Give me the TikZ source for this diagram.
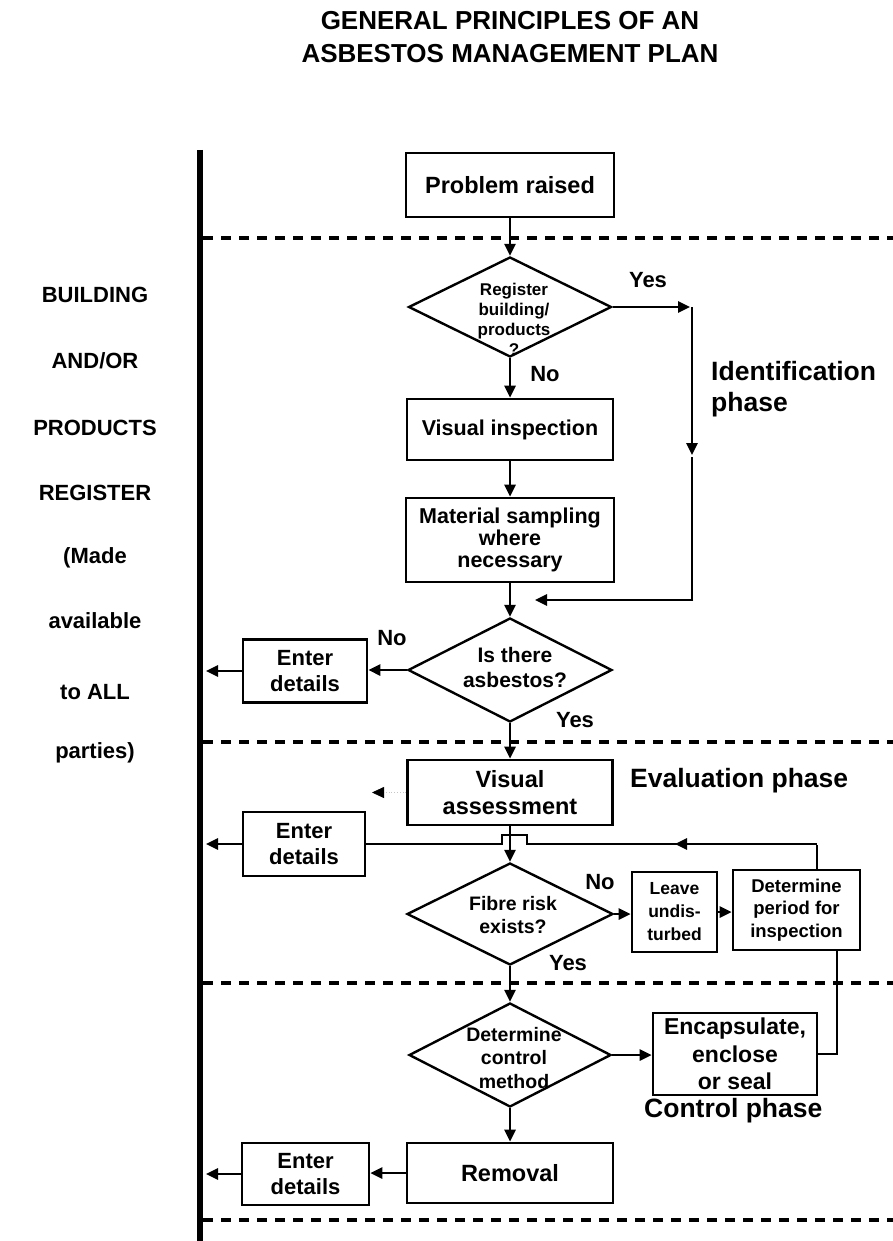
\documentclass[tikz,border=0pt]{standalone}
\usepackage{fontspec}
\setmainfont{Liberation Sans}
\usetikzlibrary{shapes.geometric,arrows.meta}
\newcommand{\myfs}[2]{\fontsize{#1}{#2}\selectfont}
\begin{document}
\begin{tikzpicture}[x=1pt,y=-1pt,
  lw/.style={line width=2.6pt},
  conn/.style={line width=2.6pt,-{Triangle[length=12pt,width=11pt]}},
  box/.style={draw,line width=2.6pt,inner sep=0pt,align=center,font=\bfseries\myfs{22}{26}},
  dia/.style={draw,diamond,line width=2.4pt,inner sep=0pt},
  dtext/.style={align=center,inner sep=0pt,font=\bfseries\myfs{19.5}{23.5}},
  yn/.style={inner sep=0pt,font=\bfseries\myfs{22}{26}},
  phaseline/.style={line width=4.5pt,dash pattern=on 10pt off 8pt},
  reglab/.style={anchor=base,inner sep=0pt,font=\bfseries\myfs{22}{26}},
  phaselab/.style={anchor=base west,inner sep=0pt,font=\bfseries\myfs{26.5}{31}},
  titlelab/.style={anchor=base,inner sep=0pt,font=\bfseries\myfs{26}{33}},
]
\useasboundingbox (0,0) rectangle (893,1241);

% title
\node[titlelab] (t1) at (510,30) {GENERAL PRINCIPLES OF AN};
\node[titlelab] (t2) at (510,63) {ASBESTOS MANAGEMENT PLAN};

% register line and phase separators
\coordinate (regtop) at (200,150);
\coordinate (regbot) at (200,1241);
\coordinate (regx) at (206,0);
\draw[line width=6pt] (regtop) -- (regbot);
\draw[phaseline] (203,238) -- (893,238);
\draw[phaseline] (203,742) -- (893,742);
\draw[phaseline] (203,983) -- (893,983);
\draw[phaseline] (203,1220) -- (893,1220);

% left labels
\node[reglab] (r1) at (95,302) {BUILDING};
\node[reglab] (r2) at (95,368) {AND/OR};
\node[reglab] (r3) at (95,435) {PRODUCTS};
\node[reglab] (r4) at (95,500) {REGISTER};
\node[reglab] (r5) at (95,563) {(Made};
\node[reglab] (r6) at (95,628) {available};
\node[reglab] (r7) at (95,699) {to ALL};
\node[reglab] (r8) at (95,758) {parties)};

% phase labels
\node[phaselab] (ph1) at (711,380) {Identification};
\node[phaselab] (ph2) at (711,411) {phase};
\node[phaselab] (ph3) at (630,787) {Evaluation phase};
\node[phaselab] (ph4) at (644,1117) {Control phase};

% boxes
\node[box,minimum width=208pt,minimum height=64pt,font=\bfseries\myfs{23.5}{27}] (P) at (510,185) {Problem raised};
\node[box,minimum width=206pt,minimum height=61pt,font=\bfseries\myfs{21.5}{25}] (VI) at (510,429.5) {Visual inspection};
\node[box,minimum width=208pt,minimum height=84pt,font=\bfseries\myfs{21.5}{22}] (MS) at (510,540) {Material sampling\\where\\necessary};
\node[box,minimum width=124pt,minimum height=63pt] (E1) at (305,671) {Enter\\details};
\node[box,minimum width=205pt,minimum height=65pt,font=\bfseries\myfs{23.5}{27}] (VA) at (510,792.5) {Visual\\assessment};
\node[box,minimum width=122pt,minimum height=64pt] (E2) at (304,844) {Enter\\details};
\node[box,minimum width=85pt,minimum height=80pt,font=\bfseries\myfs{17.5}{23}] (L) at (674.5,912) {Leave\\undis-\\turbed};
\node[box,minimum width=127pt,minimum height=80pt,font=\bfseries\myfs{18.5}{22.5}] (DP) at (796.5,910) {Determine\\period for\\inspection};
\node[box,minimum width=164pt,minimum height=82pt,font=\bfseries\myfs{23}{27.5}] (Enc) at (735,1054) {Encapsulate,\\enclose\\or seal};
\node[box,minimum width=206pt,minimum height=60pt,font=\bfseries\myfs{23.5}{27}] (R) at (510,1173) {Removal};
\node[box,minimum width=127pt,minimum height=62pt] (E3) at (305.5,1174) {Enter\\details};

% diamonds
\node[dia,minimum width=203pt,minimum height=100pt] (d1) at (510,307) {};
\node[dtext,font=\bfseries\myfs{17}{20}] (d1t) at (514,319) {Register\\building/\\products\\?};
\node[dia,minimum width=204pt,minimum height=104pt] (d2) at (510,670) {};
\node[dtext,font=\bfseries\myfs{21}{25}] (d2t) at (515,667) {Is there\\asbestos?};
\node[dia,minimum width=206pt,minimum height=102pt] (d3) at (510,914) {};
\node[dtext] (d3t) at (513,915) {Fibre risk\\exists?};
\node[dia,minimum width=202pt,minimum height=104pt] (d4) at (510,1055) {};
\node[dtext] (d4t) at (514,1058) {Determine\\control\\method};

% yes / no labels
\node[yn] (y1) at (648,280) {Yes};
\node[yn] (n1) at (545,374) {No};
\node[yn] (n2) at (392,638) {No};
\node[yn] (y2) at (575,720) {Yes};
\node[yn] (n3) at (600,882) {No};
\node[yn] (y3) at (568,963) {Yes};

% identification phase connectors
\draw[conn] (P.south) -- (d1.north);
\draw[conn] (d1.south) -- (VI.north);
\coordinate (yx) at (692,0);
\coordinate (ymid) at (692,455);
\coordinate (yb) at (692,600);
\coordinate (ym) at (535,600);
\draw[conn] (d1.east) -- ([xshift=-2pt]d1.east -| yx);
\draw[conn] (d1.east -| yx) -- (ymid);
\draw[lw] ([yshift=-2pt]ymid) -- (yb);
\draw[conn] ([xshift=1.3pt]yb) -- (ym);
\draw[conn] (VI.south) -- (MS.north);
\draw[conn] (MS.south) -- (d2.north);
\draw[conn] (d2.west) -- (d2.west -| E1.east);
\draw[conn] (E1.west) -- (E1.west -| regx);

% evaluation phase connectors
\draw[conn] (d2.south) -- (VA.north);
\coordinate (vaL) at (372,0);
\draw[gray!45,line width=0.8pt,dotted,-{Triangle[length=12pt,width=11pt,color=black]}] (VA.west) -- (VA.west -| vaL);
\draw[conn] (VA.south) -- (d3.north);
\coordinate (lpR) at (817,844);
\coordinate (lpA) at (675,844);
\draw[lw] ([xshift=20.5pt]DP.north) -- ([yshift=-1.3pt]lpR);
\draw[conn] (lpR) -- (lpA);
\draw[lw] ([xshift=2pt]lpA) -- (527,844) -- (527,835) -- (502,835) -- (502,844) -- (E2.east);
\draw[conn] (E2.west) -- (E2.west -| regx);
\draw[conn] (d3.east) -- (d3.east -| L.west);
\draw[conn] (L.east) -- (L.east -| DP.west);

% control phase connectors
\draw[conn] (d3.south) -- (d4.north);
\draw[lw] ([xshift=40.5pt]DP.south) |- (Enc.east);
\draw[conn] (d4.east) -- (d4.east -| Enc.west);
\draw[conn] (d4.south) -- (R.north);
\draw[conn] (R.west) -- (R.west -| E3.east);
\draw[conn] (E3.west) -- (E3.west -| regx);
\end{tikzpicture}
\end{document}
